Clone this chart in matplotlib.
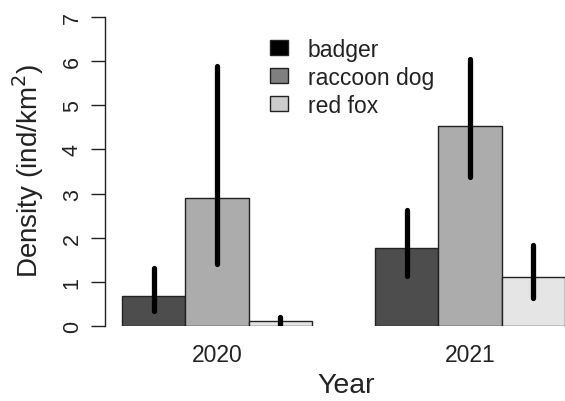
import matplotlib
matplotlib.use("Agg")
import matplotlib.pyplot as plt
from matplotlib.patches import Patch
import numpy as np

plt.rcParams['font.family'] = ['Liberation Sans', 'DejaVu Sans']

years = ["2020", "2021"]
species = ["badger", "raccoon dog", "red fox"]
density = {
    "badger": [0.68, 1.76],
    "raccoon dog": [2.90, 4.54],
    "red fox": [0.12, 1.10],
}
lower = {
    "badger": [0.34, 1.13],
    "raccoon dog": [1.41, 3.37],
    "red fox": [0.03, 0.63],
}
upper = {
    "badger": [1.31, 2.63],
    "raccoon dog": [5.89, 6.05],
    "red fox": [0.20, 1.84],
}
bar_colors = ["#4d4d4d", "#acacac", "#e5e5e5"]
legend_colors = ["#000000", "#7f7f7f", "#cccccc"]

W, H = 565, 402
fig = plt.figure(figsize=(W/100, H/100), dpi=100)
ax = fig.add_axes([105/W, (H-327)/H, 460/W, 309/H])

for gi, yr in enumerate(years):
    for si, sp in enumerate(species):
        x0 = gi*4 + si
        ax.bar(x0, density[sp][gi], width=1.0, align='edge', color=bar_colors[si],
               edgecolor='#222222', linewidth=1.0, zorder=2)
        lc = ax.vlines(x0 + 0.5, lower[sp][gi], upper[sp][gi], colors='black',
                       linewidth=3.8, zorder=3)
        lc.set_capstyle('round')

ax.set_xlim(-0.27, 7.0)
ax.set_ylim(0, 7)
for s in ['top', 'right', 'bottom']:
    ax.spines[s].set_visible(False)
ax.spines['left'].set_bounds(0, 7)
ax.spines['left'].set_linewidth(1.0)
ax.spines['left'].set_color('#222222')

ax.set_yticks(range(8))
ax.set_yticklabels([str(i) for i in range(8)], rotation=90, va='center',
                   fontsize=15.5, color='#222222')
ax.tick_params(axis='y', length=10, width=1.0, pad=6, color='#222222')
ax.set_xticks([1.5, 5.5])
ax.set_xticklabels(years, fontsize=16.5, color='#222222')
ax.tick_params(axis='x', length=0, pad=12)

fig.text(28/W, 1 - 171/H, "Density (ind/km$^2$)", rotation=90, ha='center', va='center',
         fontsize=20, color='#222222')
fig.text(346/W, 1 - 386/H, "Year", ha='center', va='center', fontsize=20.5, color='#222222')

handles = [Patch(facecolor=c, edgecolor='#222222', linewidth=1.0) for c in legend_colors]
leg = fig.legend(handles, species, loc='upper left', bbox_to_anchor=(256/W, 1 - 25/H),
                 frameon=False, fontsize=16.5, handlelength=0.8, handleheight=0.65,
                 handletextpad=0.85, labelspacing=0.22, borderpad=0.1, labelcolor='#222222')

fig.savefig("out.png", dpi=100)
